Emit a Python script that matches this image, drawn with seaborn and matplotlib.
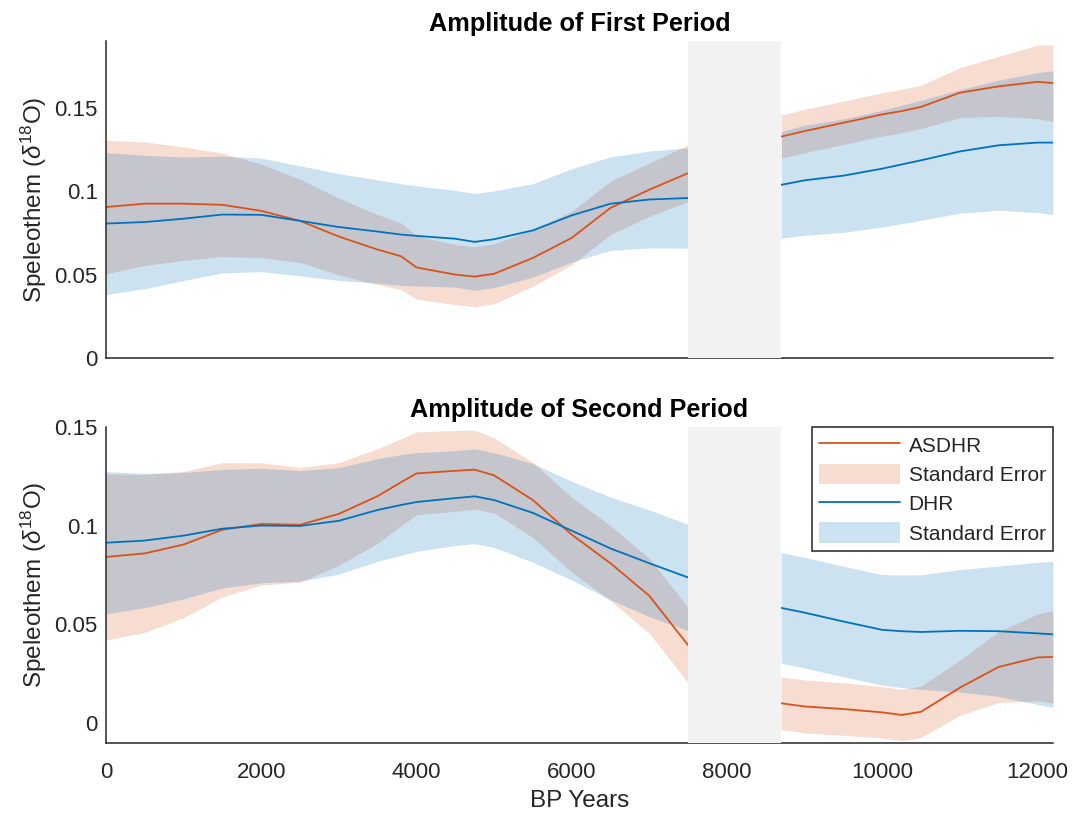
import matplotlib
matplotlib.use("Agg")
import matplotlib.pyplot as plt
import pandas as pd
import seaborn as sns

# ---------------- data ----------------
x_pre = [0, 500, 1000, 1500, 2000, 2500, 3000, 3500, 3800, 4000, 4500, 4750,
         5000, 5500, 6000, 6500, 7000, 7500]
x_post = [8700, 9000, 9500, 10000, 10250, 10500, 11000, 11500, 12000, 12200]
gap_start, gap_end = 7500, 8700

# First period
p1_asdhr_pre = [0.0905, 0.0925, 0.0925, 0.0918, 0.0882, 0.0822, 0.0728, 0.0650, 0.0610,
                0.0543, 0.0500, 0.0488, 0.0505, 0.0600, 0.0720, 0.0900, 0.1009, 0.1108]
p1_asdhr_se_pre = [0.040, 0.037, 0.034, 0.031, 0.028, 0.025, 0.023, 0.021, 0.020,
                   0.019, 0.018, 0.018, 0.018, 0.017, 0.016, 0.016, 0.016, 0.017]
p1_asdhr_post = [0.1327, 0.1360, 0.1410, 0.1460, 0.1480, 0.1505, 0.1590, 0.1628, 0.1655, 0.1648]
p1_asdhr_se_post = [0.013, 0.013, 0.013, 0.013, 0.013, 0.013, 0.015, 0.018, 0.022, 0.023]

p1_dhr_pre = [0.0806, 0.0815, 0.0835, 0.0860, 0.0858, 0.0822, 0.0785, 0.0758, 0.0740,
              0.0732, 0.0715, 0.0696, 0.0712, 0.0765, 0.0855, 0.0925, 0.0950, 0.0959]
p1_dhr_se_pre = [0.0425, 0.040, 0.037, 0.035, 0.034, 0.033, 0.032, 0.031, 0.0305,
                 0.030, 0.029, 0.029, 0.029, 0.028, 0.028, 0.028, 0.029, 0.030]
p1_dhr_post = [0.1038, 0.1065, 0.1093, 0.1135, 0.1160, 0.1185, 0.1238, 0.1275, 0.1291, 0.1291]
p1_dhr_se_post = [0.032, 0.033, 0.034, 0.035, 0.0355, 0.036, 0.037, 0.039, 0.042, 0.043]

# Second period
p2_asdhr_pre = [0.0842, 0.0860, 0.0905, 0.0980, 0.1009, 0.1005, 0.1060, 0.1150, 0.1220,
                0.1265, 0.1278, 0.1284, 0.1255, 0.1130, 0.0955, 0.0810, 0.0645, 0.0395]
p2_asdhr_se_pre = [0.042, 0.040, 0.037, 0.034, 0.031, 0.029, 0.026, 0.024, 0.022,
                   0.021, 0.0205, 0.020, 0.019, 0.019, 0.019, 0.019, 0.019, 0.019]
p2_asdhr_post = [0.0101, 0.0085, 0.0072, 0.0055, 0.0042, 0.0058, 0.0180, 0.0285, 0.0333, 0.0336]
p2_asdhr_se_post = [0.0134, 0.0134, 0.0133, 0.013, 0.013, 0.013, 0.014, 0.018, 0.022, 0.0234]

p2_dhr_pre = [0.0914, 0.0925, 0.0950, 0.0985, 0.1001, 0.0999, 0.1025, 0.1080, 0.1105,
              0.1120, 0.1140, 0.1149, 0.1130, 0.1065, 0.0975, 0.0885, 0.0810, 0.0738]
p2_dhr_se_pre = [0.036, 0.034, 0.032, 0.030, 0.029, 0.028, 0.027, 0.026, 0.0255,
                 0.025, 0.024, 0.024, 0.024, 0.025, 0.025, 0.026, 0.027, 0.027]
p2_dhr_post = [0.0584, 0.0560, 0.0515, 0.0473, 0.0466, 0.0462, 0.0468, 0.0466, 0.0455, 0.0450]
p2_dhr_se_post = [0.028, 0.028, 0.028, 0.028, 0.0285, 0.029, 0.031, 0.033, 0.036, 0.037]

titles = ["Amplitude of First Period", "Amplitude of Second Period"]
legend_labels = ["ASDHR", "Standard Error", "DHR", "Standard Error"]
ytick_vals = [0, 0.05, 0.1, 0.15]
ytick_labels = ["0", "0.05", "0.1", "0.15"]
xtick_vals = [0, 2000, 4000, 6000, 8000, 10000, 12000]
xtick_labels = ["0", "2000", "4000", "6000", "8000", "10000", "12000"]

# ---------------- style ----------------
sns.set_style("white")
plt.rcParams["font.family"] = ["Liberation Sans", "DejaVu Sans"]
plt.rcParams["mathtext.fontset"] = "custom"
plt.rcParams["mathtext.rm"] = "Liberation Sans"
plt.rcParams["mathtext.it"] = "Liberation Sans:italic"

ORANGE = "#D95319"
BLUE = "#0072BD"
GRAY_TXT = "#262626"

fig = plt.figure(figsize=(10.75, 8.18), dpi=100)
ax1 = fig.add_axes([0.0986, 0.5623, 0.8809, 0.3876])
ax2 = fig.add_axes([0.0986, 0.0917, 0.8809, 0.3863])

panels = [
    (ax1, p1_asdhr_pre, p1_asdhr_se_pre, p1_asdhr_post, p1_asdhr_se_post,
     p1_dhr_pre, p1_dhr_se_pre, p1_dhr_post, p1_dhr_se_post, (0, 0.19)),
    (ax2, p2_asdhr_pre, p2_asdhr_se_pre, p2_asdhr_post, p2_asdhr_se_post,
     p2_dhr_pre, p2_dhr_se_pre, p2_dhr_post, p2_dhr_se_post, (-0.01, 0.15)),
]

handles = None
for i, (ax, a_pre, a_se_pre, a_post, a_se_post,
        d_pre, d_se_pre, d_post, d_se_post, ylim) in enumerate(panels):
    hs = []
    for series in [(a_pre, a_se_pre, a_post, a_se_post, ORANGE),
                   (d_pre, d_se_pre, d_post, d_se_post, BLUE)]:
        y_pre, se_pre, y_post, se_post, col = series
        seg_handles = []
        for xs, ys, ses in [(x_pre, y_pre, se_pre), (x_post, y_post, se_post)]:
            df = pd.DataFrame({"year": xs, "val": ys, "se": ses})
            sns.lineplot(data=df, x="year", y="val", ax=ax, color=col,
                         linewidth=1.3, estimator=None, sort=False)
            ln = ax.lines[-1]
            fb = ax.fill_between(df["year"], df["val"] - df["se"], df["val"] + df["se"],
                                 color=col, alpha=0.2, linewidth=0)
            seg_handles.append((ln, fb))
        hs.extend([seg_handles[0][0], seg_handles[0][1]])
    handles = hs

    ax.axvspan(gap_start, gap_end, color="#F2F2F2", lw=0, zorder=3)

    ax.set_xlim(0, 12200)
    ax.set_ylim(*ylim)
    ax.set_yticks(ytick_vals, ytick_labels)
    ax.set_ylabel(r"Speleothem ($\delta^{18}$O)", fontsize=17.5, color=GRAY_TXT, labelpad=4)
    ax.set_title(titles[i], fontsize=18.2, fontweight="bold", color="black", pad=7)
    for s in ["top", "right"]:
        ax.spines[s].set_visible(False)
    for s in ["left", "bottom"]:
        ax.spines[s].set_color(GRAY_TXT)
        ax.spines[s].set_linewidth(1.1)
    ax.tick_params(direction="in", length=6, width=0.9, colors=GRAY_TXT,
                   labelsize=16)
    ax.tick_params(axis="y", pad=6)
    ax.set_xlabel("")

ax1.set_xticks([])
ax2.set_xticks(xtick_vals, xtick_labels)
ax2.tick_params(axis="x", pad=14)
ax2.set_xlabel("BP Years", fontsize=17.5, color=GRAY_TXT, labelpad=5)

leg = ax2.legend(handles, legend_labels, loc="upper right", bbox_to_anchor=(1.0, 1.0),
                 borderaxespad=0, fontsize=15, frameon=True, fancybox=False,
                 handlelength=3.9, handleheight=1.15, handletextpad=0.4,
                 labelspacing=0.38, borderpad=0.35)
leg.get_frame().set_edgecolor("black")
leg.get_frame().set_linewidth(1.2)
leg.set_zorder(5)

fig.savefig("out.png", dpi=100)
